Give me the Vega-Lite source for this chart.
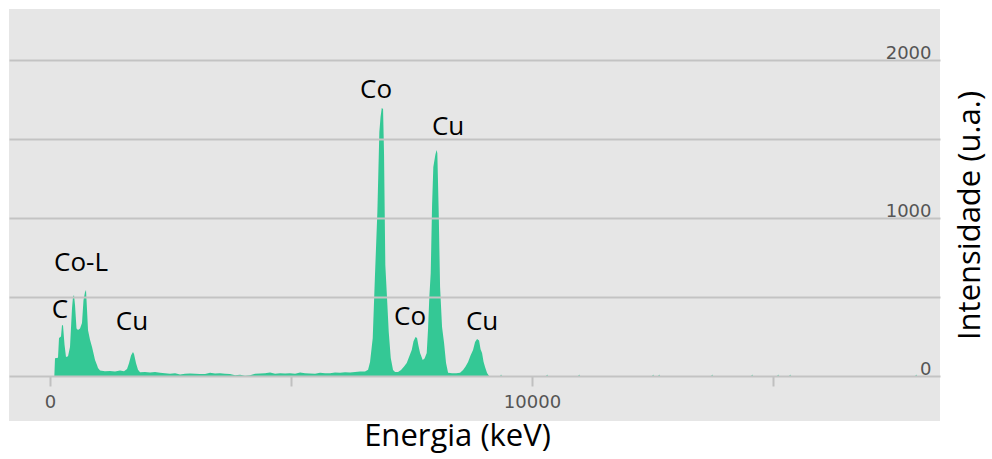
{
  "$schema": "https://vega.github.io/schema/vega-lite/v6.json",
  "width": 931,
  "height": 412,
  "autosize": "none",
  "padding": {"left": 9, "top": 9, "right": 52, "bottom": 38},
  "background": "white",
  "view": {"fill": "#e6e6e6", "stroke": null},
  "datasets": {
    "spec": [
      {"e": 90, "c": 0}, {"e": 104, "c": 112}, {"e": 166, "c": 115}, {"e": 187, "c": 240}, {"e": 228, "c": 250},
      {"e": 249, "c": 323}, {"e": 270, "c": 320}, {"e": 301, "c": 200}, {"e": 332, "c": 120}, {"e": 374, "c": 125},
      {"e": 415, "c": 184}, {"e": 457, "c": 430}, {"e": 477, "c": 500}, {"e": 498, "c": 513}, {"e": 519, "c": 450},
      {"e": 550, "c": 300}, {"e": 581, "c": 291}, {"e": 623, "c": 300}, {"e": 664, "c": 335}, {"e": 695, "c": 480},
      {"e": 726, "c": 530}, {"e": 747, "c": 544}, {"e": 768, "c": 420}, {"e": 789, "c": 290}, {"e": 830, "c": 230},
      {"e": 872, "c": 184}, {"e": 913, "c": 130}, {"e": 934, "c": 101}, {"e": 975, "c": 70}, {"e": 996, "c": 50},
      {"e": 1038, "c": 35}, {"e": 1141, "c": 30}, {"e": 1245, "c": 32}, {"e": 1349, "c": 28}, {"e": 1453, "c": 35},
      {"e": 1536, "c": 30}, {"e": 1598, "c": 45}, {"e": 1639, "c": 80}, {"e": 1681, "c": 130}, {"e": 1722, "c": 152},
      {"e": 1743, "c": 140}, {"e": 1785, "c": 80}, {"e": 1826, "c": 40}, {"e": 1868, "c": 24},
      {"e": 1971, "c": 25}, {"e": 2075, "c": 22}, {"e": 2179, "c": 26}, {"e": 2283, "c": 20}, {"e": 2386, "c": 18},
      {"e": 2490, "c": 15}, {"e": 2594, "c": 18}, {"e": 2698, "c": 10}, {"e": 2801, "c": 14}, {"e": 2905, "c": 16},
      {"e": 3009, "c": 14}, {"e": 3113, "c": 12}, {"e": 3216, "c": 12}, {"e": 3320, "c": 20}, {"e": 3424, "c": 16},
      {"e": 3528, "c": 18}, {"e": 3631, "c": 14}, {"e": 3735, "c": 12}, {"e": 3839, "c": 4}, {"e": 3943, "c": 8},
      {"e": 4046, "c": 2}, {"e": 4150, "c": 4}, {"e": 4254, "c": 14}, {"e": 4358, "c": 16}, {"e": 4461, "c": 18},
      {"e": 4565, "c": 22}, {"e": 4669, "c": 14}, {"e": 4773, "c": 18}, {"e": 4876, "c": 16}, {"e": 4980, "c": 18},
      {"e": 5084, "c": 14}, {"e": 5188, "c": 22}, {"e": 5291, "c": 18}, {"e": 5395, "c": 16}, {"e": 5499, "c": 14},
      {"e": 5603, "c": 20}, {"e": 5706, "c": 17}, {"e": 5810, "c": 18}, {"e": 5914, "c": 22}, {"e": 6018, "c": 20},
      {"e": 6121, "c": 24}, {"e": 6225, "c": 22}, {"e": 6329, "c": 26}, {"e": 6433, "c": 28}, {"e": 6536, "c": 28},
      {"e": 6599, "c": 40}, {"e": 6640, "c": 89}, {"e": 6696, "c": 240}, {"e": 6744, "c": 652}, {"e": 6792, "c": 1038},
      {"e": 6833, "c": 1544}, {"e": 6858, "c": 1640}, {"e": 6883, "c": 1696}, {"e": 6910, "c": 1690}, {"e": 6930, "c": 1411},
      {"e": 6957, "c": 702}, {"e": 6986, "c": 532}, {"e": 7028, "c": 278}, {"e": 7070, "c": 114}, {"e": 7117, "c": 38},
      {"e": 7159, "c": 25}, {"e": 7221, "c": 25}, {"e": 7283, "c": 38}, {"e": 7346, "c": 60}, {"e": 7401, "c": 82},
      {"e": 7449, "c": 120}, {"e": 7505, "c": 165}, {"e": 7542, "c": 220}, {"e": 7584, "c": 247}, {"e": 7615, "c": 240},
      {"e": 7646, "c": 190}, {"e": 7678, "c": 146}, {"e": 7733, "c": 101}, {"e": 7771, "c": 110}, {"e": 7816, "c": 146},
      {"e": 7844, "c": 300}, {"e": 7870, "c": 500}, {"e": 7899, "c": 652}, {"e": 7927, "c": 1082}, {"e": 7953, "c": 1323},
      {"e": 7995, "c": 1400}, {"e": 8020, "c": 1430}, {"e": 8036, "c": 1410}, {"e": 8065, "c": 1032}, {"e": 8093, "c": 563},
      {"e": 8134, "c": 310}, {"e": 8176, "c": 209}, {"e": 8217, "c": 82}, {"e": 8259, "c": 20}, {"e": 8342, "c": 18},
      {"e": 8425, "c": 18}, {"e": 8508, "c": 20}, {"e": 8570, "c": 38}, {"e": 8622, "c": 60}, {"e": 8674, "c": 89},
      {"e": 8725, "c": 130}, {"e": 8777, "c": 165}, {"e": 8819, "c": 215}, {"e": 8860, "c": 234}, {"e": 8902, "c": 225},
      {"e": 8933, "c": 170}, {"e": 8964, "c": 146}, {"e": 8995, "c": 90}, {"e": 9026, "c": 57}, {"e": 9068, "c": 19},
      {"e": 9109, "c": 0},
      {"e": 9343, "c": 0}, {"e": 9358, "c": 10}, {"e": 9373, "c": 0},
      {"e": 10298, "c": 0}, {"e": 10313, "c": 10}, {"e": 10328, "c": 0},
      {"e": 10962, "c": 0}, {"e": 10977, "c": 10}, {"e": 10992, "c": 0},
      {"e": 12497, "c": 0}, {"e": 12512, "c": 10}, {"e": 12527, "c": 0},
      {"e": 12622, "c": 0}, {"e": 12637, "c": 10}, {"e": 12652, "c": 0},
      {"e": 13722, "c": 0}, {"e": 13737, "c": 10}, {"e": 13752, "c": 0},
      {"e": 14552, "c": 0}, {"e": 14567, "c": 10}, {"e": 14582, "c": 0},
      {"e": 15091, "c": 0}, {"e": 15106, "c": 10}, {"e": 15121, "c": 0},
      {"e": 15340, "c": 0}, {"e": 15355, "c": 10}, {"e": 15370, "c": 0},
      {"e": 17955, "c": 0}, {"e": 17970, "c": 10}, {"e": 17985, "c": 0},
      {"e": 18465, "c": 0}
    ],
    "lbl": [
      {"e": 6765, "c": 1810, "t": "Co"},
      {"e": 8259, "c": 1576, "t": "Cu"},
      {"e": 643, "c": 715, "t": "Co-L"},
      {"e": 207, "c": 418, "t": "C"},
      {"e": 1701, "c": 342, "t": "Cu"},
      {"e": 7470, "c": 373, "t": "Co"},
      {"e": 8964, "c": 342, "t": "Cu"}
    ]
  },
  "layer": [
    {
      "data": {"name": "spec"},
      "mark": {"type": "area", "color": "#34c895", "interpolate": "linear"},
      "encoding": {
        "x": {
          "field": "e", "type": "quantitative",
          "scale": {"domain": [-850.6, 18465], "nice": false, "zero": false},
          "axis": {
            "title": "Energia (keV)", "orient": "bottom", "offset": -45,
            "values": [0, 5000, 10000, 15000],
            "labelExpr": "datum.value % 10000 == 0 ? format(datum.value, 'd') : ''",
            "grid": false, "domain": false, "ticks": true, "tickSize": 10,
            "tickColor": "#c0c0c0", "tickWidth": 2,
            "labelFont": "DejaVu Sans", "labelFontSize": 18, "labelColor": "#555555",
            "labelPadding": 7, "labelFlush": false, "labelOverlap": false,
            "titleFont": "Open Sans", "titleFontSize": 31, "titleFontWeight": "normal",
            "titleColor": "black", "titlePadding": 10, "titleX": 448
          }
        },
        "y": {
          "field": "c", "type": "quantitative",
          "scale": {"domain": [-284.8, 2322.8], "nice": false, "zero": false},
          "axis": {
            "title": "Intensidade (u.a.)", "orient": "right",
            "values": [0, 500, 1000, 1500, 2000],
            "labelExpr": "datum.value % 1000 == 0 ? format(datum.value, 'd') : ''",
            "grid": true, "gridColor": "#c3c3c3", "gridWidth": 2,
            "domain": false, "ticks": false, "tickSize": 0,
            "labelAlign": "right", "labelBaseline": "alphabetic", "labelPadding": -9, "labelOffset": -2,
            "labelFont": "DejaVu Sans", "labelFontSize": 18, "labelColor": "#555555",
            "titleFont": "Open Sans", "titleFontSize": 31, "titleFontWeight": "normal",
            "titleColor": "black", "titleAngle": 270, "titleBaseline": "top", "titlePadding": 15,
            "zindex": 1
          }
        },
        "y2": {"datum": 0}
      }
    },
    {
      "data": {"name": "lbl"},
      "mark": {"type": "text", "font": "Open Sans", "fontSize": 26, "color": "black", "align": "center", "baseline": "middle"},
      "encoding": {
        "x": {"field": "e", "type": "quantitative"},
        "y": {"field": "c", "type": "quantitative"},
        "text": {"field": "t"}
      }
    }
  ]
}
